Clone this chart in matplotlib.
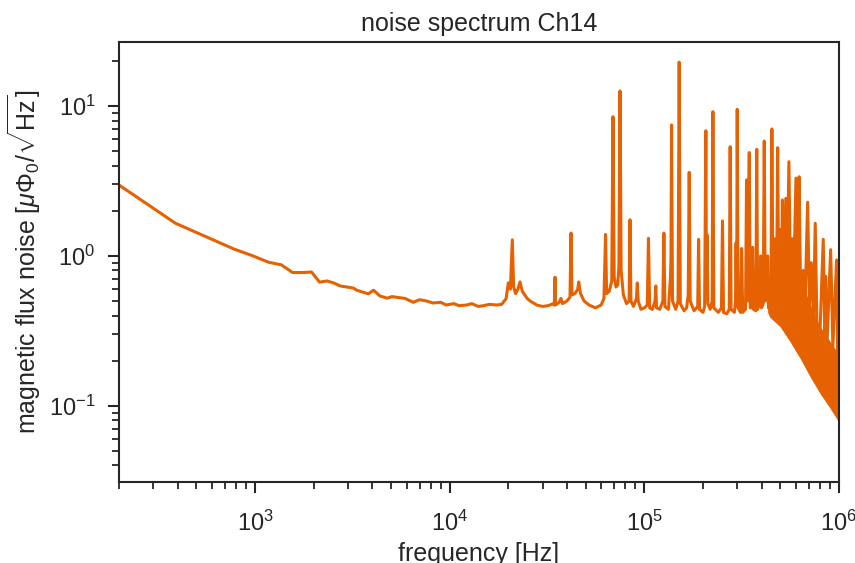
import matplotlib
matplotlib.use("Agg")
import matplotlib.pyplot as plt
from matplotlib.ticker import LogLocator, NullFormatter

# ---- data ----
freq_hz = [
    200, 390, 780, 975, 1170, 1365, 1560, 1755, 1950, 2145, 2340, 2535, 2735,
    3200, 3330, 3820, 4060, 4380, 4790, 5040, 5900, 6500, 7000, 7600, 8200,
    9000, 9600, 10500, 11200, 12200, 13000, 14000, 14900, 16000, 17400, 18500,
    19500, 20000, 20500, 20970, 21300, 21800, 22400, 22970, 23600, 25000,
    25900, 28000, 30000, 32000, 34000, 34500, 34760, 35000, 36500, 37300,
    38000, 40000, 41500, 42000, 42500, 44000, 45500, 46000, 47000, 49000,
    52000, 56000, 60000, 62000, 63200, 64000, 66000, 68000, 69000, 70000,
    71500, 73000, 74000, 75000, 76000, 78000, 81000, 83500, 84400, 85300,
    88000, 91000, 92000, 93000, 96000, 100000, 103500, 105000, 106500,
    110000, 113500, 114500, 115500, 120000, 124500, 126000, 127500, 133000,
    136000, 137000, 138000, 139500, 145000, 149000, 151000, 153000, 160000,
    165000, 168000, 170000, 172000, 180000, 188000, 190000, 192000, 200000,
    204000, 207000, 208500, 210000, 212000, 218000, 223000, 225000, 227500,
    240000, 249000, 252000, 255000, 265000, 273000, 276000, 279000, 290000,
    294000, 296000, 298000, 300000, 303000, 312000, 316000, 320000, 331000,
    335000, 338000, 346000, 350000, 356000, 360000, 364000, 374000, 378000,
    382000, 392000, 396000, 400000, 408000, 413000, 418000, 430000, 434000,
    447000, 452000, 458000, 466000, 472000, 478000, 484000, 490000, 498000,
    505000, 512000, 518000, 533000, 540000, 553000, 563000, 575000, 585000,
    601000, 612000, 624000, 635000, 655000, 670000, 690000, 705000, 720000,
    740000, 755000, 770000, 800000, 830000, 845000, 854000, 870000, 906000,
    930000, 972000, 985000, 1000000,
]
flux_noise = [
    2.97, 1.65, 1.11, 1.00, 0.908, 0.871, 0.774, 0.774, 0.78, 0.668, 0.68, 0.66, 0.63,
    0.61, 0.59, 0.558, 0.59, 0.54, 0.522, 0.535, 0.52, 0.49, 0.51, 0.50, 0.485,
    0.49, 0.47, 0.48, 0.465, 0.47, 0.48, 0.46, 0.465, 0.475, 0.47, 0.475,
    0.52, 0.66, 0.60, 1.28, 0.62, 0.56, 0.60, 0.67, 0.58, 0.52,
    0.50, 0.47, 0.46, 0.465, 0.48, 0.47, 0.72, 0.47, 0.49, 0.52,
    0.48, 0.50, 0.53, 1.42, 0.55, 0.56, 0.60, 0.67, 0.56, 0.50,
    0.47, 0.45, 0.47, 0.52, 1.39, 0.56, 0.58, 0.68, 8.48, 0.72,
    0.62, 0.64, 0.85, 12.6, 0.80, 0.55, 0.48, 0.50, 1.74, 0.50,
    0.46, 0.52, 0.66, 0.50, 0.44, 0.45, 0.47, 1.31, 0.45,
    0.44, 0.50, 0.63, 0.45, 0.44, 0.50, 1.42, 0.46, 0.44,
    0.70, 0.95, 7.47, 0.50, 0.44, 0.50, 19.6, 0.48, 0.43,
    0.45, 0.55, 3.61, 0.50, 0.43, 0.46, 1.29, 0.44, 0.42,
    0.46, 6.84, 0.55, 1.38, 0.48, 0.44, 0.50, 9.16, 0.45,
    0.42, 0.45, 1.71, 0.42, 0.41, 0.44, 5.35, 0.44, 0.42,
    0.50, 1.22, 0.50, 9.5, 0.45, 0.42, 1.12, 0.42, 0.44,
    3.21, 0.50, 4.89, 0.45, 0.45, 1.14, 0.44, 0.43, 5.14,
    0.44, 0.50, 1.00, 0.45, 0.48, 5.84, 0.50, 1.00, 0.45,
    0.50, 7.03, 0.55, 1.30, 0.50, 0.60, 5.27, 0.60, 1.50,
    0.50, 2.36, 0.60, 2.42, 0.60, 4.25, 0.70, 1.30, 0.65,
    3.30, 0.60, 3.37, 0.55, 0.80, 0.50, 2.28, 0.45, 0.90,
    0.40, 1.65, 0.35, 0.33, 1.29, 0.30, 0.73, 0.28, 1.10,
    0.25, 0.94, 0.20, 0.22,
]

# dense high-frequency band (envelope of the unresolved oscillations)
band_freq = [430000, 441000, 497000, 560000, 630000, 709000, 798000, 898000, 1000000]
band_low = [0.42, 0.39, 0.338, 0.268, 0.208, 0.157, 0.121, 0.0966, 0.0774]
band_high = [0.50, 0.60, 1.00, 1.00, 0.72, 0.48, 0.34, 0.27, 0.22]

title = "noise spectrum Ch14"
xlabel = "frequency [Hz]"
ylabel = r"magnetic flux noise [$\mu\Phi_0/\sqrt{\mathrm{Hz}}$]"

# ---- style ----
plt.rcParams["font.family"] = ["Liberation Sans", "DejaVu Sans"]
plt.rcParams["mathtext.fontset"] = "custom"
plt.rcParams["mathtext.rm"] = "Liberation Sans"
plt.rcParams["mathtext.it"] = "Liberation Sans:italic"
plt.rcParams["mathtext.bf"] = "Liberation Sans:bold"

color = "#e66101"
dark = "#262626"

fig = plt.figure(figsize=(8.55, 5.63), dpi=100)
ax = fig.add_axes([119 / 855, 1 - 482 / 563, (839 - 119) / 855, (482 - 42.3) / 563])

ax.fill_between(band_freq, band_low, band_high, color=color, linewidth=0)
ax.plot(freq_hz, flux_noise, color=color, linewidth=2.2, solid_joinstyle="round")

ax.set_xscale("log")
ax.set_yscale("log")
ax.set_xlim(200, 1e6)
ax.set_ylim(0.031, 26.6)

ax.xaxis.set_major_locator(LogLocator(base=10, numticks=12))
ax.xaxis.set_minor_locator(LogLocator(base=10, subs=range(2, 10), numticks=12))
ax.yaxis.set_major_locator(LogLocator(base=10, numticks=12))
ax.yaxis.set_minor_locator(LogLocator(base=10, subs=range(2, 10), numticks=12))
ax.xaxis.set_minor_formatter(NullFormatter())
ax.yaxis.set_minor_formatter(NullFormatter())

for s in ax.spines.values():
    s.set_color(dark)
    s.set_linewidth(1.5)

ax.tick_params(which="major", direction="out", length=8, width=1.5, color=dark,
               labelsize=17, labelcolor=dark)
ax.tick_params(axis="x", which="major", pad=13)
ax.tick_params(axis="y", which="major", pad=9)
ax.tick_params(which="minor", direction="out", length=5, width=1.3, color=dark)

ax.set_title(title, fontsize=18, color=dark, pad=8)
ax.set_xlabel(xlabel, fontsize=18, color=dark, labelpad=4)
ax.set_ylabel(ylabel, fontsize=18, color=dark, labelpad=4)

fig.savefig("out.png", dpi=100)
